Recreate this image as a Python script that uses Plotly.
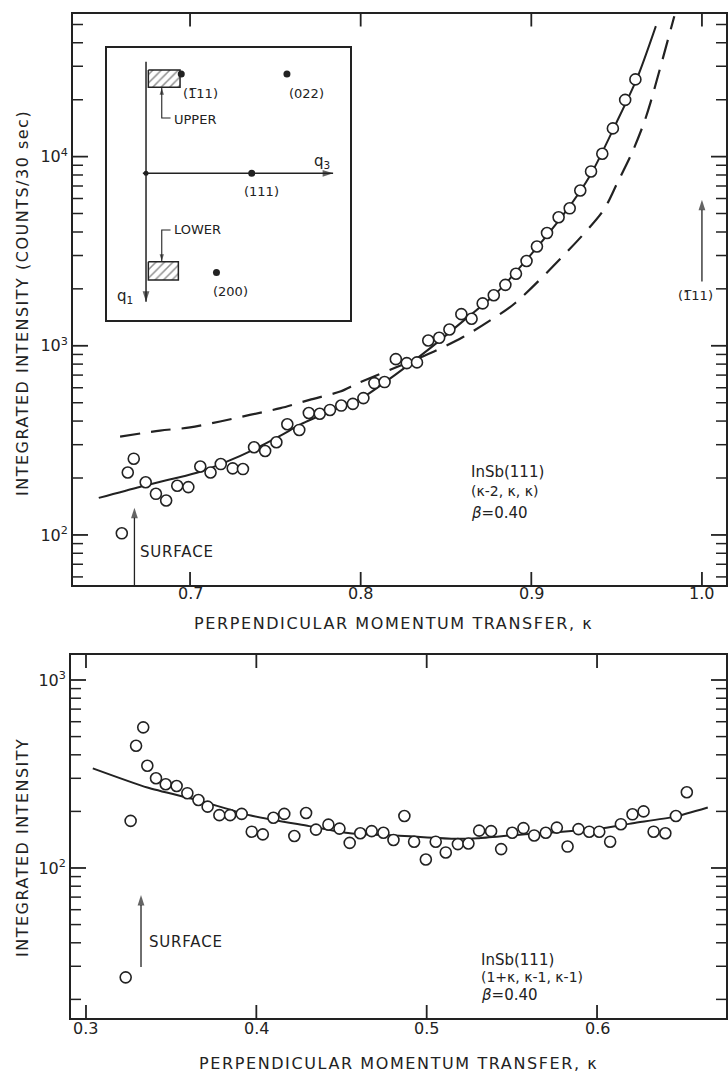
import math
import plotly.graph_objects as go

# ---------------- data: upper panel, InSb(111) (k-2, k, k) ----------------
top_k = [0.660, 0.6635, 0.667, 0.674, 0.680, 0.686, 0.6925, 0.699, 0.706, 0.712,
         0.718, 0.725, 0.731, 0.7375, 0.744, 0.7506, 0.757, 0.764, 0.7696, 0.776,
         0.782, 0.7886, 0.7954, 0.8016, 0.808, 0.814, 0.8206, 0.827, 0.833, 0.8396,
         0.846, 0.852, 0.859, 0.865, 0.8715, 0.878, 0.8848, 0.891, 0.8972, 0.9033,
         0.9092, 0.916, 0.9225, 0.9287, 0.935, 0.9416, 0.9478, 0.955, 0.961]
top_I = [102, 214, 253, 190, 165, 152, 182, 179, 230, 214,
         237, 225, 223, 291, 278, 309, 385, 359, 441, 437,
         458, 483, 493, 529, 635, 643, 850, 810, 817, 1067,
         1102, 1219, 1470, 1390, 1675, 1850, 2100, 2404, 2806, 3350,
         3945, 4780, 5330, 6620, 8350, 10350, 14100, 19950, 25600]

top_fit_k = [0.6465, 0.671, 0.690, 0.706, 0.7215, 0.737, 0.753, 0.765, 0.784, 0.800,
             0.820, 0.840, 0.860, 0.880, 0.900, 0.920, 0.935, 0.950, 0.962, 0.973]
top_fit_I = [157, 180, 198, 216, 244, 282, 335, 385, 458, 525,
             700, 960, 1350, 1920, 3050, 5100, 8100, 15200, 26000, 49000]

top_dash_k = [0.659, 0.6824, 0.700, 0.7176, 0.735, 0.753, 0.770, 0.788, 0.7985, 0.843,
              0.860, 0.875, 0.8906, 0.9414, 0.9502, 0.959, 0.9659, 0.9698, 0.9838]
top_dash_I = [331, 356, 370, 398, 431, 468, 518, 573, 635, 933,
              1112, 1346, 1683, 5070, 7200, 10470, 14970, 19240, 55200]

# ---------------- data: lower panel, InSb(111) (1+k, k-1, k-1) ----------------
bot_k = [0.3233, 0.3262, 0.3294, 0.3336, 0.336, 0.3411, 0.3468, 0.3532, 0.3595, 0.366,
         0.3714, 0.3783, 0.3846, 0.3914, 0.3973, 0.4038, 0.41, 0.4164, 0.4223, 0.4292,
         0.435, 0.4423, 0.4488, 0.4548, 0.461, 0.4677, 0.4746, 0.4805, 0.4869, 0.4926,
         0.4995, 0.5053, 0.5112, 0.5183, 0.5245, 0.5308, 0.5378, 0.5437, 0.5502, 0.5568,
         0.5631, 0.5699, 0.5764, 0.5827, 0.5891, 0.5954, 0.6013, 0.6077, 0.614, 0.6208,
         0.6273, 0.6332, 0.6401, 0.6463, 0.6527]
bot_I = [26.2, 178, 447, 560, 350, 300, 279, 273, 250, 230,
         212, 191, 191, 194, 156, 151, 185, 194, 148, 196,
         160, 170, 162, 136, 153, 157, 154, 141, 189, 138,
         111, 138, 121, 134, 135, 158, 157, 126, 154, 163,
         149, 154, 164, 130, 161, 156, 156, 138, 171, 193,
         200, 156, 153, 189, 253]

bot_fit_k = [0.304, 0.336, 0.365, 0.398, 0.431, 0.455, 0.487, 0.517, 0.53, 0.553,
             0.60, 0.621, 0.645, 0.665]
bot_fit_I = [339, 268, 230, 189, 167, 153, 148, 143, 144, 150,
             161, 173, 187, 210]

# tick labels
top_xticks = [0.7, 0.8, 0.9, 1.0]
bot_xticks = [0.3, 0.4, 0.5, 0.6]
top_yticks = [100, 1000, 10000]
bot_yticks = [100, 1000]

# ---------------- inset: reciprocal-lattice schematic (units of |111|) ----------------
BAR1 = "1\u0305"
inset_labels = ["(" + BAR1 + "11)", "(022)", "(111)", "(200)"]
inset_q3 = [1 / 3, 4 / 3, 1.0, 2 / 3]
inset_q1 = [-0.9428, -0.9428, 0.0, 0.9428]

INK = "#222222"
FONT = "DejaVu Sans"
W, H = 728, 1075


def spaced(t, sp=1.6):
    return "<span style='letter-spacing:%.1fpx'>%s</span>" % (sp, t)


def py(p):
    return 1 - p / H


def px(p):
    return p / W


# panel geometry (pixels) and axis ranges
TOP = dict(x0=73, x1=726, y0=13.5, y1=585, xr=[0.6314, 1.0141], yr=[1.7354, 4.7566])
BOT = dict(x0=71, x1=726, y0=655, y1=1018, xr=[0.2912, 0.6757], yr=[1.202, 3.133])

top_minor = [m * 10 ** e for e in range(1, 5) for m in range(2, 10) if 54 < m * 10 ** e < 57000]
bot_minor = [m * 10 ** e for e in range(1, 4) for m in range(2, 10) if 16 < m * 10 ** e < 1350]

fig = go.Figure()


def tick_traces(box, xt, yt, ymin, xa, ya):
    """Inward tick marks on all four sides, expressed in the panel's own axis units."""
    xpp = (box["xr"][1] - box["xr"][0]) / (box["x1"] - box["x0"])   # data per pixel (x)
    ypp = (box["yr"][1] - box["yr"][0]) / (box["y1"] - box["y0"])   # decades per pixel (y)
    ylo, yhi = box["yr"]
    xlo, xhi = box["xr"]
    xs, ys = [], []
    for v in xt:
        xs += [v, v, None, v, v, None]
        ys += [10 ** ylo, 10 ** (ylo + 13 * ypp), None, 10 ** yhi, 10 ** (yhi - 13 * ypp), None]
    fig.add_trace(go.Scatter(x=xs, y=ys, mode="lines", line=dict(color=INK, width=1.8),
                             hoverinfo="skip", xaxis=xa, yaxis=ya))
    for vals, ln, lw in [(yt, 15, 1.8), (ymin, 10, 1.5)]:
        xs, ys = [], []
        for v in vals:
            xs += [xlo, xlo + ln * xpp, None, xhi, xhi - ln * xpp, None]
            ys += [v, v, None, v, v, None]
        fig.add_trace(go.Scatter(x=xs, y=ys, mode="lines", line=dict(color=INK, width=lw),
                                 hoverinfo="skip", xaxis=xa, yaxis=ya))


def arrow_trace(xs, ys, angle, xa, ya, size=10, width=1.3):
    """Poly-line whose last point carries a filled arrow head (tip at that point)."""
    sizes = [0] * (len(xs) - 1) + [size]
    fig.add_trace(go.Scatter(x=xs, y=ys, mode="lines+markers", hoverinfo="skip",
                             line=dict(color=INK, width=width),
                             marker=dict(symbol="arrow", angle=angle, size=sizes, color=INK,
                                         line=dict(width=0)),
                             xaxis=xa, yaxis=ya))


marker = dict(symbol="circle", size=11, color="white", line=dict(color=INK, width=1.6))

# upper panel
tick_traces(TOP, top_xticks, top_yticks, top_minor, "x", "y")
fig.add_trace(go.Scatter(x=top_dash_k, y=top_dash_I, mode="lines",
                         line=dict(color=INK, width=2.2, dash="20px,11px", shape="spline", smoothing=0.8),
                         xaxis="x", yaxis="y"))
fig.add_trace(go.Scatter(x=top_fit_k, y=top_fit_I, mode="lines",
                         line=dict(color=INK, width=2, shape="spline", smoothing=0.8), xaxis="x", yaxis="y"))
fig.add_trace(go.Scatter(x=top_k, y=top_I, mode="markers", marker=marker, xaxis="x", yaxis="y"))
# surface-position arrow and (-111) Bragg-point arrow
arrow_trace([0.6674, 0.6674], [10 ** TOP["yr"][0], 10 ** 2.144], 0, "x", "y", size=11)
arrow_trace([1.0, 1.0], [10 ** 3.34, 10 ** 3.772], 0, "x", "y", size=11)

# lower panel
tick_traces(BOT, bot_xticks, bot_yticks, bot_minor, "x2", "y2")
fig.add_trace(go.Scatter(x=bot_fit_k, y=bot_fit_I, mode="lines",
                         line=dict(color=INK, width=2, shape="spline", smoothing=0.6), xaxis="x2", yaxis="y2"))
fig.add_trace(go.Scatter(x=bot_k, y=bot_I, mode="markers", marker=marker, xaxis="x2", yaxis="y2"))
arrow_trace([0.3323, 0.3323], [10 ** 1.473, 10 ** 1.856], 0, "x2", "y2", size=11)

# inset hatched scan regions
upper_box_q3 = [0.022, 0.322, 0.322, 0.022, 0.022]
upper_box_q1 = [-0.981, -0.981, -0.817, -0.817, -0.981]
lower_box_q3 = [0.022, 0.306, 0.306, 0.022, 0.022]
lower_box_q1 = [0.840, 0.840, 1.013, 1.013, 0.840]
for bx, by in [(upper_box_q3, upper_box_q1), (lower_box_q3, lower_box_q1)]:
    fig.add_trace(go.Scatter(x=bx, y=by, mode="lines", fill="toself", fillcolor="white",
                             fillpattern=dict(shape="/", size=6, solidity=0.25, fgcolor=INK, bgcolor="white"),
                             line=dict(color=INK, width=1.5), xaxis="x3", yaxis="y3"))
# q1 and q3 axes, UPPER / LOWER pointers
arrow_trace([0, 0], [-1.06, 1.22], 180, "x3", "y3", size=11, width=1.5)
arrow_trace([-0.03, 1.77], [0, 0], 90, "x3", "y3", size=11, width=1.5)
arrow_trace([0.232, 0.149, 0.149], [-0.525, -0.525, -0.81], 0, "x3", "y3", size=7, width=1.1)
arrow_trace([0.232, 0.149, 0.149], [0.538, 0.538, 0.833], 180, "x3", "y3", size=7, width=1.1)
fig.add_trace(go.Scatter(x=inset_q3, y=inset_q1, mode="markers",
                         marker=dict(size=7, color=INK), xaxis="x3", yaxis="y3"))
fig.add_trace(go.Scatter(x=[0], y=[0], mode="markers",
                         marker=dict(size=5, color=INK), xaxis="x3", yaxis="y3"))

# ---------------- axes ----------------
tickfont = dict(family=FONT, size=16, color=INK)
frame = dict(showline=True, linecolor=INK, linewidth=1.8, mirror=True, ticks="",
             showgrid=False, zeroline=False)

fig.update_layout(
    width=W, height=H, margin=dict(l=0, r=0, t=0, b=0),
    paper_bgcolor="white", plot_bgcolor="white", showlegend=False,
    font=dict(family=FONT, color=INK),
    xaxis=dict(frame, domain=[px(TOP["x0"]), px(TOP["x1"])], range=TOP["xr"], anchor="y",
               showticklabels=False),
    yaxis=dict(frame, type="log", domain=[py(TOP["y1"]), py(TOP["y0"])], range=TOP["yr"], anchor="x",
               tickmode="array", tickvals=top_yticks, tickfont=tickfont,
               ticktext=["10<sup>%d</sup>" % round(math.log10(v)) for v in top_yticks]),
    xaxis2=dict(frame, domain=[px(BOT["x0"]), px(BOT["x1"])], range=BOT["xr"], anchor="y2",
                showticklabels=False),
    yaxis2=dict(frame, type="log", domain=[py(BOT["y1"]), py(BOT["y0"])], range=BOT["yr"], anchor="x2",
                tickmode="array", tickvals=bot_yticks, tickfont=tickfont,
                ticktext=["10<sup>%d</sup>" % round(math.log10(v)) for v in bot_yticks]),
    xaxis3=dict(domain=[px(106.7), px(350)], range=[-0.372, 1.93], showline=True, mirror=True,
                linecolor=INK, linewidth=1.5, showticklabels=False, ticks="", showgrid=False,
                zeroline=False, anchor="y3"),
    yaxis3=dict(domain=[py(320), py(48.3)], range=[1.393, -1.187], showline=True, mirror=True,
                linecolor=INK, linewidth=1.5, showticklabels=False, ticks="", showgrid=False,
                zeroline=False, anchor="x3"),
)

ann = []
# x tick labels
for xa, ya, vals, dy in [("x", "y", top_xticks, 8), ("x2", "y2", bot_xticks, 10)]:
    for v in vals:
        ann.append(dict(text="%.1f" % v, x=v, y=0, xref=xa, yref=ya + " domain", xanchor="center",
                        yanchor="middle", yshift=-dy, showarrow=False, font=tickfont))

tf = dict(family=FONT, size=15, color=INK)
ttl = dict(family=FONT, size=16, color=INK)


def paper_text(text, x, y, angle=0):
    return dict(text=text, x=px(x), y=py(y), xref="paper", yref="paper", xanchor="center",
                yanchor="middle", showarrow=False, textangle=angle, font=ttl)


# axis titles
ann.append(paper_text(spaced("PERPENDICULAR MOMENTUM TRANSFER, \u03ba"), 393.5, 623))
ann.append(paper_text(spaced("PERPENDICULAR MOMENTUM TRANSFER, \u03ba"), 398.5, 1063))
ann.append(paper_text(spaced("INTEGRATED INTENSITY (COUNTS/30 sec)", 1.5), 22, 303, -90))
ann.append(paper_text(spaced("INTEGRATED INTENSITY", 1.5), 22, 848, -90))


def label(text, x, y, xr, yr, font=tf, xanchor="left"):
    return dict(text=text, x=x, y=y, xref=xr, yref=yr, xanchor=xanchor, yanchor="middle",
                showarrow=False, font=font)


# upper panel labels
ann.append(label(spaced("SURFACE", 0.8), 0.6695, 1.912, "x", "y"))
ann.append(label("(" + BAR1 + "11)", 0.9965, 3.265, "x", "y", font=dict(family=FONT, size=13, color=INK), xanchor="center"))
ann.append(label("InSb(111)", 0.8635, 2.333, "x", "y"))
ann.append(label("(\u03ba-2, \u03ba, \u03ba)", 0.8635, 2.233, "x", "y", font=dict(family=FONT, size=14, color=INK)))
ann.append(label("<i>\u03b2</i>=0.40", 0.8635, 2.116, "x", "y"))

# lower panel labels
ann.append(label(spaced("SURFACE", 0.8), 0.3356, 1.608, "x2", "y2"))
ann.append(label("InSb(111)", 0.5307, 1.511, "x2", "y2"))
ann.append(label("(1+\u03ba, \u03ba-1, \u03ba-1)", 0.5307, 1.420, "x2", "y2", font=dict(family=FONT, size=14, color=INK)))
ann.append(label("<i>\u03b2</i>=0.40", 0.5307, 1.322, "x2", "y2"))

# inset labels
isf = dict(family=FONT, size=13, color=INK)
ann.append(label("q<sub>3</sub>", 1.662, -0.11, "x3", "y3", font=dict(family=FONT, size=15, color=INK), xanchor="center"))
ann.append(label("q<sub>1</sub>", -0.2, 1.17, "x3", "y3", font=dict(family=FONT, size=15, color=INK), xanchor="center"))
label_pos = [(0.511, -0.76), (1.52, -0.76), (1.095, 0.175), (0.795, 1.124)]
for lab, (lx, ly) in zip(inset_labels, label_pos):
    ann.append(label(lab, lx, ly, "x3", "y3", font=isf, xanchor="center"))
ann.append(label("UPPER", 0.246, -0.51, "x3", "y3", font=isf))
ann.append(label("LOWER", 0.246, 0.53, "x3", "y3", font=isf))

fig.update_layout(annotations=ann)
fig.write_html("out.html")
